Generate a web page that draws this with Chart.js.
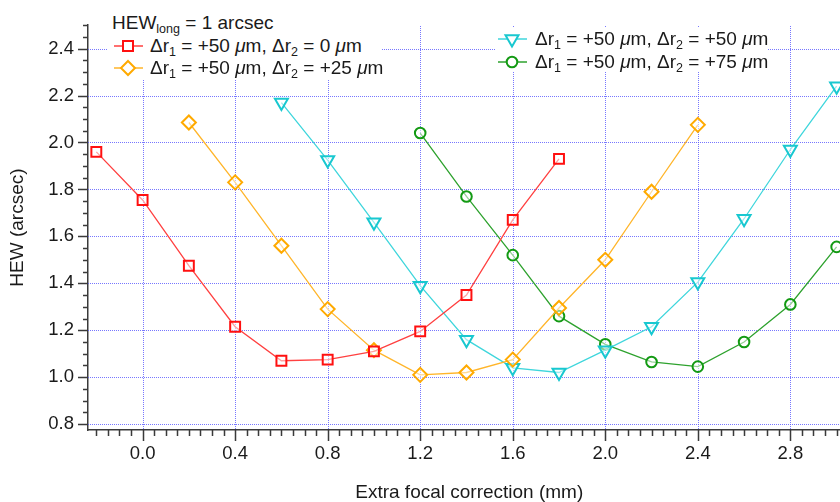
<!DOCTYPE html>
<html>
<head>
<meta charset="utf-8">
<script src="https://cdn.jsdelivr.net/npm/chart.js@4.4.1/dist/chart.umd.min.js"></script>
<style>
  html, body { margin: 0; padding: 0; background: #fff; overflow: hidden; }
  #wrap { position: relative; width: 840px; height: 502px; overflow: hidden; }
  #chart { position: absolute; left: 0; top: 0; }
  .box { position: absolute; background: #fff; }
  .row { position: absolute; height: 22px; line-height: 22px; white-space: nowrap;
         font-family: "Liberation Sans", Arial, Helvetica, sans-serif; font-size: 19px; color: #1a1a1a; }
  .row svg { position: absolute; top: 0; }
  .row span { position: absolute; top: 0; }
  sub { font-size: 0.66em; vertical-align: -0.28em; line-height: 0; }
</style>
</head>
<body>
<div id="wrap">
  <canvas id="chart" width="860" height="502"></canvas>
  <div class="box" style="left:108px;top:0px;width:274px;height:80px"></div>
  <div class="box" style="left:496px;top:28px;width:272px;height:44px"></div>
  <div class="row" style="left:112px;top:12px">HEW<sub>long</sub> = 1 arcsec</div>
  <div id="legend"></div>
</div>
<script>
// x values (mm) and HEW values (arcsec) per series
const redX = [-0.2, 0.0, 0.2, 0.4, 0.6, 0.8, 1.0, 1.2, 1.4, 1.6, 1.8];
const redHEW = [1.96, 1.755, 1.475, 1.215, 1.07, 1.075, 1.11, 1.195, 1.35, 1.67, 1.93];

const orangeX = [0.2, 0.4, 0.6, 0.8, 1.0, 1.2, 1.4, 1.6, 1.8, 2.0, 2.2, 2.4];
const orangeHEW = [2.085, 1.83, 1.56, 1.29, 1.115, 1.01, 1.02, 1.075, 1.295, 1.5, 1.79, 2.075];

const cyanX = [0.6, 0.8, 1.0, 1.2, 1.4, 1.6, 1.8, 2.0, 2.2, 2.4, 2.6, 2.8, 3.0];
const cyanHEW = [2.17, 1.925, 1.66, 1.39, 1.16, 1.04, 1.02, 1.115, 1.215, 1.405, 1.675, 1.97, 2.24];

const greenX = [1.2, 1.4, 1.6, 1.8, 2.0, 2.2, 2.4, 2.6, 2.8, 3.0];
const greenHEW = [2.04, 1.77, 1.52, 1.26, 1.14, 1.065, 1.045, 1.15, 1.31, 1.555];

const xTicks = [0.0, 0.4, 0.8, 1.2, 1.6, 2.0, 2.4, 2.8];
const yTicks = [0.8, 1.0, 1.2, 1.4, 1.6, 1.8, 2.0, 2.2, 2.4];

const seriesLabels = [
  'Δr<sub>1</sub> = +50 <i>μ</i>m, Δr<sub>2</sub> = 0 <i>μ</i>m',
  'Δr<sub>1</sub> = +50 <i>μ</i>m, Δr<sub>2</sub> = +25 <i>μ</i>m',
  'Δr<sub>1</sub> = +50 <i>μ</i>m, Δr<sub>2</sub> = +50 <i>μ</i>m',
  'Δr<sub>1</sub> = +50 <i>μ</i>m, Δr<sub>2</sub> = +75 <i>μ</i>m'
];

const FONT = '"Liberation Sans", Arial, Helvetica, sans-serif';
const toPts = (xs, ys) => xs.map((x, i) => ({ x: x, y: ys[i] }));

const series = [
  { data: toPts(redX, redHEW), line: '#ff4040', mark: '#ff1010', style: 'rect', r: 7, rot: 0 },
  { data: toPts(orangeX, orangeHEW), line: '#ffb52a', mark: '#ffaa00', style: 'rectRot', r: 7, rot: 0 },
  { data: toPts(cyanX, cyanHEW), line: '#3fd6dc', mark: '#18c8d0', style: 'triangle', r: 7.5, rot: 180 },
  { data: toPts(greenX, greenHEW), line: '#2ea22e', mark: '#139a13', style: 'circle', r: 5.3, rot: 0 }
];

// dotted blue grid at the labelled ticks
const dottedGrid = {
  id: 'dottedGrid',
  beforeDatasetsDraw(chart) {
    const { ctx, chartArea: a } = chart;
    const x = chart.scales.x, y = chart.scales.y;
    ctx.save();
    ctx.fillStyle = 'rgba(85, 85, 255, 0.8)';
    xTicks.forEach(v => {
      const px = Math.round(x.getPixelForValue(v));
      for (let yy = Math.ceil(a.top); yy < a.bottom; yy += 2) ctx.fillRect(px, yy, 1, 1);
    });
    yTicks.forEach(v => {
      const py = Math.round(y.getPixelForValue(v));
      for (let xx = Math.ceil(a.left); xx < a.right; xx += 2) ctx.fillRect(xx, py, 1, 1);
    });
    ctx.restore();
  }
};

// minor + major tick marks on both axes
const axisTicks = {
  id: 'axisTicks',
  afterDraw(chart) {
    const { ctx, chartArea } = chart;
    const x = chart.scales.x, y = chart.scales.y;
    ctx.save();
    ctx.strokeStyle = '#3a3a3a';
    ctx.lineWidth = 1.5;
    ctx.beginPath();
    for (let i = Math.ceil(x.min / 0.05); i * 0.05 <= x.max; i++) {
      const px = Math.round(x.getPixelForValue(i * 0.05)) + 0.5;
      const len = i % 8 === 0 ? 11 : 6;
      ctx.moveTo(px, chartArea.bottom);
      ctx.lineTo(px, chartArea.bottom + len);
    }
    for (let j = Math.ceil(y.min / 0.05 - 1e-6); j * 0.05 <= y.max + 1e-6; j++) {
      const py = Math.round(y.getPixelForValue(j * 0.05)) + 0.5;
      const len = j % 4 === 0 ? 10 : 5;
      ctx.moveTo(chartArea.left, py);
      ctx.lineTo(chartArea.left - len, py);
    }
    ctx.stroke();
    ctx.restore();
  }
};

new Chart(document.getElementById('chart'), {
  type: 'line',
  data: {
    datasets: series.map(s => ({
      data: s.data,
      borderColor: s.line,
      borderWidth: 1.3,
      pointStyle: s.style,
      pointRadius: s.r,
      pointHoverRadius: s.r,
      pointRotation: s.rot,
      pointBorderColor: s.mark,
      pointBorderWidth: 2,
      pointBackgroundColor: 'rgba(255,255,255,0.5)',
      tension: 0
    }))
  },
  options: {
    responsive: false,
    animation: false,
    events: [],
    layout: { padding: { top: 14, right: 3, left: 0, bottom: 0 } },
    plugins: { legend: { display: false }, tooltip: { enabled: false } },
    scales: {
      x: {
        type: 'linear',
        min: -0.236,
        max: 3.06,
        afterBuildTicks: s => { s.ticks = xTicks.map(v => ({ value: v })); },
        afterFit: s => { s.height = 72; },
        ticks: {
          callback: v => v.toFixed(1),
          font: { family: FONT, size: 18.5 },
          color: '#1a1a1a',
          padding: 13,
          maxRotation: 0
        },
        grid: { display: false, drawTicks: false },
        border: { display: true, color: '#3a3a3a', width: 1.5 },
        title: {
          display: true,
          text: 'Extra focal correction (mm)',
          font: { family: FONT, size: 19, lineHeight: 1 },
          color: '#1a1a1a',
          padding: { top: 0, bottom: 0 }
        }
      },
      y: {
        type: 'linear',
        min: 0.775,
        max: 2.5,
        afterBuildTicks: s => { s.ticks = yTicks.map(v => ({ value: v })); },
        afterFit: s => { s.width = 88; },
        ticks: {
          callback: v => v.toFixed(1),
          font: { family: FONT, size: 18.5 },
          color: '#1a1a1a',
          padding: 14
        },
        grid: { display: false, drawTicks: false },
        border: { display: true, color: '#3a3a3a', width: 1.5 },
        title: {
          display: true,
          text: 'HEW (arcsec)',
          font: { family: FONT, size: 19, lineHeight: 1 },
          color: '#1a1a1a',
          padding: { top: 8, bottom: 0 }
        }
      }
    }
  },
  plugins: [dottedGrid, axisTicks]
});

// legend rows (HTML so the subscripts stay real text)
const legendPos = [
  { lx: 114, cy: 46, tx: 150 },
  { lx: 114, cy: 68, tx: 150 },
  { lx: 498, cy: 39, tx: 535 },
  { lx: 498, cy: 62, tx: 535 }
];
function markerSvg(s) {
  const c = s.mark, sw = 2;
  let shape = '';
  if (s.style === 'rect') shape = `<rect x="9" y="6" width="10" height="10" fill="#fff" stroke="${c}" stroke-width="${sw}"/>`;
  if (s.style === 'rectRot') shape = `<polygon points="14,4 21,11 14,18 7,11" fill="#fff" stroke="${c}" stroke-width="${sw}"/>`;
  if (s.style === 'triangle') shape = `<polygon points="7.5,7.2 20.5,7.2 14,18.5" fill="#fff" stroke="${c}" stroke-width="${sw}"/>`;
  if (s.style === 'circle') shape = `<circle cx="14" cy="11" r="5.3" fill="#fff" stroke="${c}" stroke-width="${sw}"/>`;
  return `<svg width="29" height="22"><line x1="0" y1="11" x2="29" y2="11" stroke="${s.line}" stroke-width="1.5"/>${shape}</svg>`;
}
const legend = document.getElementById('legend');
series.forEach((s, i) => {
  const p = legendPos[i];
  const row = document.createElement('div');
  row.className = 'row';
  row.style.left = p.lx + 'px';
  row.style.top = (p.cy - 11) + 'px';
  row.innerHTML = markerSvg(s) + `<span style="left:${p.tx - p.lx}px">${seriesLabels[i]}</span>`;
  legend.appendChild(row);
});
</script>
</body>
</html>
